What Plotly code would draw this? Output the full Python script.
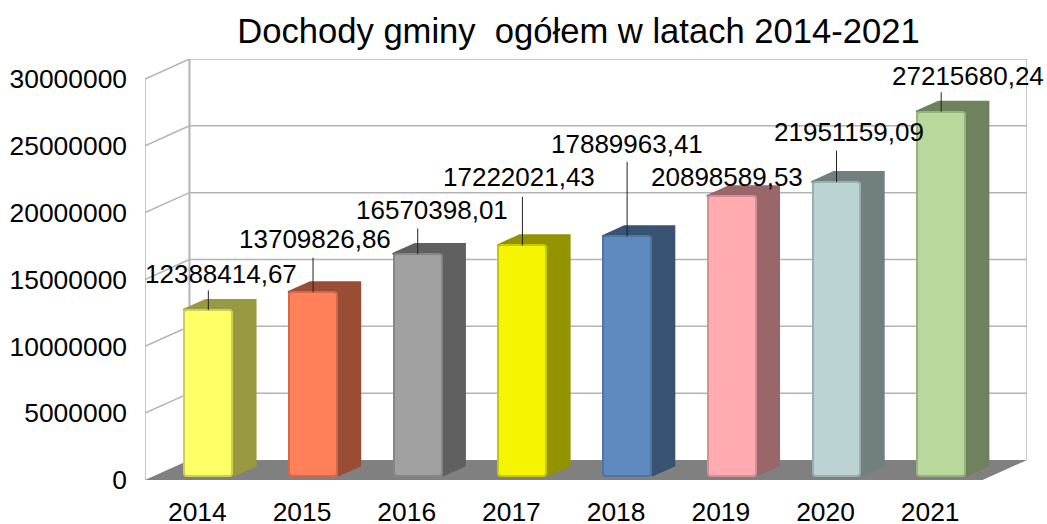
import plotly.graph_objects as go

years = ["2014", "2015", "2016", "2017", "2018", "2019", "2020", "2021"]
values = [12388414.67, 13709826.86, 16570398.01, 17222021.43, 17889963.41, 20898589.53, 21951159.09, 27215680.24]
value_labels = ["12388414,67", "13709826,86", "16570398,01", "17222021,43", "17889963,41", "20898589,53", "21951159,09", "27215680,24"]
y_ticks = [0, 5000000, 10000000, 15000000, 20000000, 25000000, 30000000]

front_colors = ["#ffff66", "#ff8059", "#a0a0a0", "#f5f500", "#5f8abf", "#ffabb0", "#bcd3d3", "#b8d99b"]
side_colors = ["#99993f", "#994d35", "#606060", "#939300", "#395372", "#99666a", "#717f7f", "#6e825d"]
edge_colors = ["#cfcf58", "#d4684a", "#868686", "#c8c800", "#4f75a3", "#d68f93", "#9ab0b0", "#96b37e"]

# label placement relative to the bar top centre (pixels) and leader length (pixels)
label_dx = [13, 2, 14, -3, 0, -5, 13, 27]
label_dy = [36, 53, 44, 68, 92, 19, 50, 36]
leader_len = [21, 36, 27, 50, 76, 0, 33, 21]

PX_X = 104.8
PX_Y = 30000000 / 401
DEPTH_X = 44.5 / PX_X
DEPTH_Y = 20 * PX_Y
BAR_W = 50 / PX_X
BAR_X = 11 / PX_X
BAR_Y = 4.5 * PX_Y
BAR_DX = 0.5 * DEPTH_X
BAR_DY = 0.5 * DEPTH_Y
X0 = -0.5
X1 = X0 + 8
GRID = "#b3b3b3"
X_RANGE = [X0, X1 + DEPTH_X]
Y_RANGE = [0, y_ticks[-1] + DEPTH_Y]

fig = go.Figure()

# floor
fig.add_trace(go.Scatter(x=[X0, X1, X1 + DEPTH_X, X0 + DEPTH_X, X0], y=[0, 0, DEPTH_Y, DEPTH_Y, 0],
                         mode="lines", fill="toself", fillcolor="#808080", line=dict(color="#808080", width=0),
                         hoverinfo="skip"))
# walls and grid
for t in y_ticks[1:]:
    fig.add_trace(go.Scatter(x=[X0, X0 + DEPTH_X, X1 + DEPTH_X], y=[t, t + DEPTH_Y, t + DEPTH_Y], mode="lines",
                             line=dict(color=GRID, width=1.5), hoverinfo="skip"))
fig.add_trace(go.Scatter(x=[X0, X0], y=[0, y_ticks[-1]], mode="lines", line=dict(color=GRID, width=1.5), hoverinfo="skip"))
fig.add_trace(go.Scatter(x=[X0 + DEPTH_X, X0 + DEPTH_X], y=[DEPTH_Y, y_ticks[-1] + DEPTH_Y], mode="lines",
                         line=dict(color=GRID, width=2), hoverinfo="skip"))
fig.add_trace(go.Scatter(x=[X1 + DEPTH_X, X1 + DEPTH_X], y=[DEPTH_Y, y_ticks[-1] + DEPTH_Y], mode="lines",
                         line=dict(color=GRID, width=1.5), hoverinfo="skip"))

# side and top faces
for i, v in enumerate(values):
    xl = i + BAR_X - BAR_W / 2
    xr = i + BAR_X + BAR_W / 2
    top = BAR_Y + v
    fig.add_trace(go.Scatter(
        x=[xr, xr + BAR_DX, xr + BAR_DX, xl + BAR_DX, xl, xr, xr],
        y=[BAR_Y, BAR_Y + BAR_DY, top + BAR_DY, top + BAR_DY, top, top, BAR_Y],
        mode="lines", fill="toself", fillcolor=side_colors[i],
        line=dict(color=side_colors[i], width=2), hoverinfo="skip", xaxis="x2", yaxis="y2"))

# front faces
fig.add_trace(go.Bar(x=[i + BAR_X for i in range(len(values))], y=values, base=BAR_Y, width=BAR_W - 2 / PX_X,
                     marker=dict(color=front_colors, line=dict(color=edge_colors, width=2), cornerradius=3),
                     hovertext=value_labels, hoverinfo="text", xaxis="x3", yaxis="y3"))

anns = []
for i, v in enumerate(values):
    xc = i + BAR_X
    yt = BAR_Y + v
    if leader_len[i]:
        anns.append(dict(x=xc, y=yt, xref="x", yref="y", text="", showarrow=True, arrowhead=0, arrowwidth=1,
                         arrowcolor="#222222", ax=0, ay=-leader_len[i], standoff=0))
    anns.append(dict(x=xc, y=yt, xref="x", yref="y", text=value_labels[i], showarrow=False,
                     xshift=label_dx[i], yshift=label_dy[i], font=dict(size=26, color="#000000")))

fig.update_layout(
    width=1047, height=524,
    margin=dict(l=144.5, r=20, t=59, b=44, pad=0, autoexpand=False),
    paper_bgcolor="#ffffff", plot_bgcolor="#ffffff",
    font=dict(family="Liberation Sans", color="#000000", size=26.4),
    showlegend=False, bargap=0, barmode="overlay",
    title=dict(text="Dochody gminy \u00a0ogółem w latach 2014-2021", x=578.5 / 1047, xanchor="center",
               y=1 - 31 / 524, yanchor="middle", font=dict(size=34.6, color="#000000")),
    xaxis=dict(range=X_RANGE, tickmode="array", tickvals=list(range(8)), ticktext=years, automargin=False,
               showgrid=False, zeroline=False, showline=False, ticks="", ticklabelstandoff=14),
    yaxis=dict(range=Y_RANGE, tickmode="array", tickvals=y_ticks, automargin=False,
               ticktext=[str(t) for t in y_ticks], showgrid=False, zeroline=False, showline=False,
               ticks="", ticklabelstandoff=17),
    xaxis2=dict(range=X_RANGE, visible=False, overlaying="x"),
    yaxis2=dict(range=Y_RANGE, visible=False, overlaying="y"),
    xaxis3=dict(range=X_RANGE, visible=False, overlaying="x"),
    yaxis3=dict(range=Y_RANGE, visible=False, overlaying="y"),
    annotations=anns,
)
fig.write_html("out.html", config={"displayModeBar": False},
               post_script="document.body.style.margin='0';document.body.style.overflow='hidden';")
